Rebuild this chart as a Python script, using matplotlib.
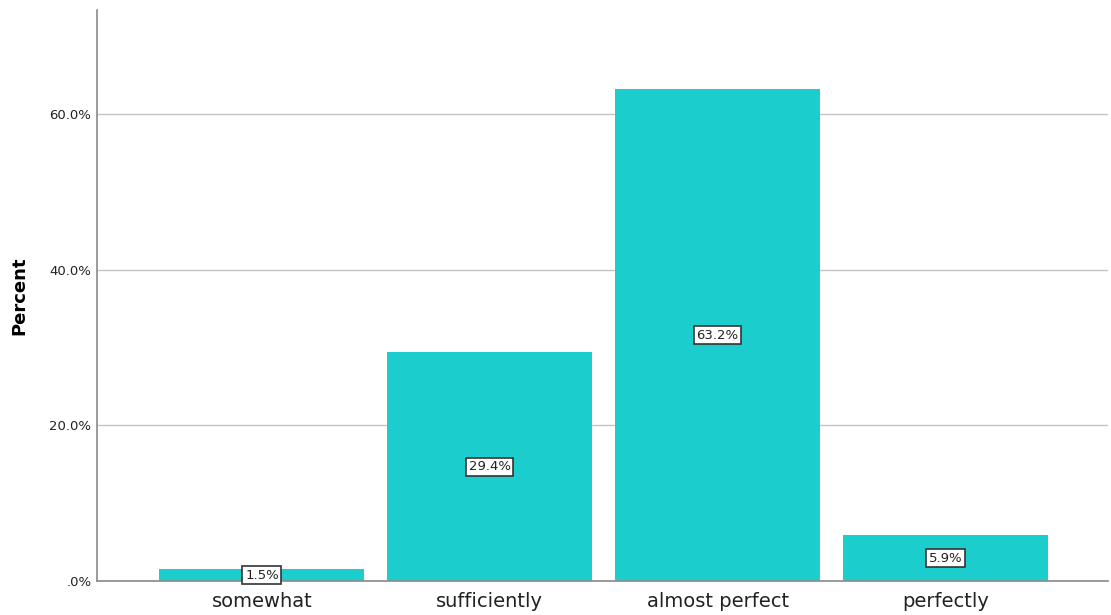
import matplotlib
matplotlib.use("Agg")
import matplotlib.pyplot as plt
import numpy as np

categories = ["somewhat", "sufficiently", "almost perfect", "perfectly"]
percents = [1.5, 29.4, 63.2, 5.9]
yticks = [0, 20, 40, 60]
ytick_labels = [".0%", "20.0%", "40.0%", "60.0%"]

bar_color = "#1ccdcd"

fig = plt.figure(figsize=(11.11, 6.15), dpi=100)
ax = fig.add_axes([0.0873, 0.0553, 0.91, 0.9284])

x = np.arange(len(categories))
ax.bar(x, percents, width=0.9, color=bar_color, zorder=2)

# value labels in small boxes at the middle of each bar
for xi, p in zip(x, percents):
    ax.text(xi, p / 2, "{:.1f}%".format(p), ha="center", va="center",
            fontsize=9.5, color="#222222", zorder=3,
            bbox=dict(boxstyle="square,pad=0.2", facecolor="white",
                      edgecolor="#333333", linewidth=1.2))

ax.set_xlim(-0.724, 3.713)
ax.set_ylim(0, 73.4)
ax.set_xticks(x)
ax.set_xticklabels(categories, fontsize=14, color="#222222")
ax.set_yticks(yticks)
ax.set_yticklabels(ytick_labels, fontsize=9.5, color="#222222")
ax.tick_params(length=0, pad=4)
ax.tick_params(axis="x", pad=8)

ax.yaxis.grid(True, color="#c4c4c4", linewidth=1.0, zorder=1)
ax.set_axisbelow(True)
for side in ["top", "right"]:
    ax.spines[side].set_visible(False)
for side in ["left", "bottom"]:
    ax.spines[side].set_color("#8a8a8a")
    ax.spines[side].set_linewidth(1.2)

ax.set_ylabel("Percent", fontsize=13, fontweight="bold", labelpad=15)

fig.savefig("out.png", dpi=100)
